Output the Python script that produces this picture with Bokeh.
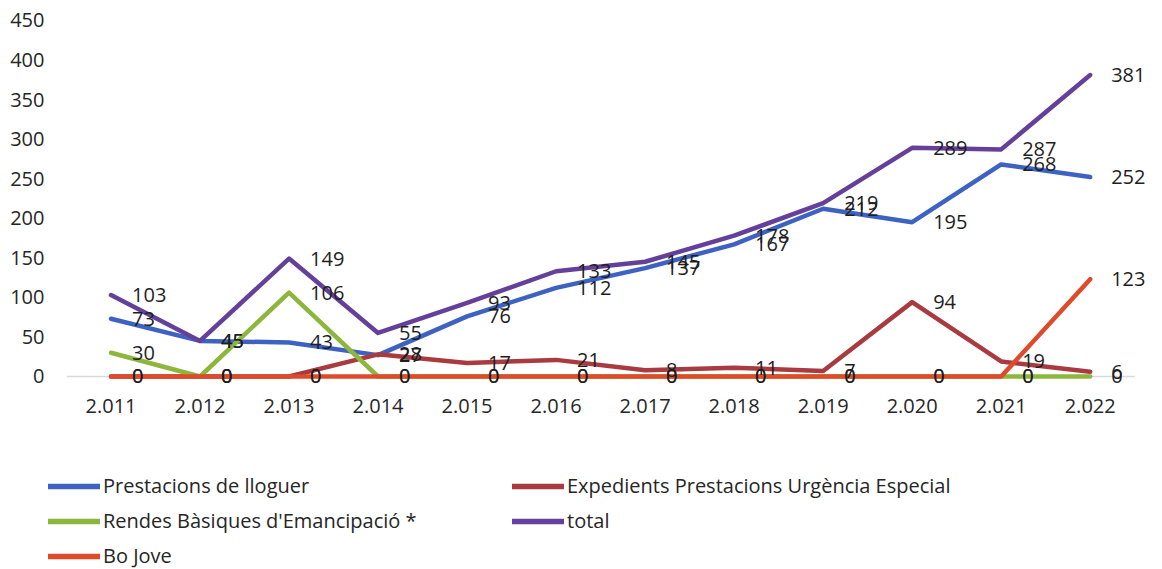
from bokeh.plotting import figure
from bokeh.models import Range1d, FixedTicker, Legend, LegendItem, ColumnDataSource
from bokeh.embed import file_html
from bokeh.resources import INLINE
from bokeh.core.properties import value

years = ["2.011", "2.012", "2.013", "2.014", "2.015", "2.016",
         "2.017", "2.018", "2.019", "2.020", "2.021", "2.022"]
prestacions = [73, 45, 43, 27, 76, 112, 137, 167, 212, 195, 268, 252]
expedients = [0, 0, 0, 28, 17, 21, 8, 11, 7, 94, 19, 6]
rendes = [30, 0, 106, 0, 0, 0, 0, 0, 0, 0, 0, 0]
total = [103, 45, 149, 55, 93, 133, 145, 178, 219, 289, 287, 381]
bo_jove = [0, 0, 0, 0, 0, 0, 0, 0, 0, 0, 0, 123]
y_ticks = [0, 50, 100, 150, 200, 250, 300, 350, 400, 450]

series = [
    ("Prestacions de lloguer", prestacions, "#3d62c2"),
    ("Expedients Prestacions Urgència Especial", expedients, "#a93a3f"),
    ("Rendes Bàsiques d'Emancipació *", rendes, "#8db63c"),
    ("total", total, "#64409a"),
    ("Bo Jove", bo_jove, "#de4a2a"),
]

FONT = "Open Sans"
xs = list(range(len(years)))

p = figure(width=1162, height=449,
           x_range=Range1d(-0.5, 11.7), y_range=Range1d(-17.7, 460),
           output_backend="svg", toolbar_location=None,
           min_border_left=66, min_border_right=10, min_border_top=12,
           min_border_bottom=59)
p.outline_line_color = None
p.background_fill_color = "white"
p.border_fill_color = "white"
p.xgrid.visible = False
p.ygrid.visible = False

# faint category axis line at zero
p.segment(x0=[-0.5], x1=[len(years) - 0.5], y0=[0], y1=[0],
          line_color="#d9d9d9", line_width=1.5)

for name, vals, color in series:
    src = ColumnDataSource(dict(x=xs, y=vals))
    p.line("x", "y", source=src, line_color=color, line_width=4.5,
           line_join="round", line_cap="round")

for name, vals, color in series:
    src = ColumnDataSource(dict(x=xs, y=vals, t=[str(v) for v in vals]))
    p.text("x", "y", text="t", source=src, x_offset=21,
           text_align="left", text_baseline="middle",
           text_font=value(FONT), text_font_size="20px", text_color="#1e1e1e")

# axes
p.xaxis.ticker = FixedTicker(ticks=xs)
p.xaxis.major_label_overrides = {i: y for i, y in enumerate(years)}
p.xaxis.axis_line_color = None
p.xaxis.major_tick_line_color = None
p.xaxis.minor_tick_line_color = None
p.xaxis.major_tick_out = 0
p.xaxis.major_label_standoff = 8
p.xaxis.major_label_text_font = FONT
p.xaxis.major_label_text_font_size = "20px"
p.xaxis.major_label_text_color = "#262626"

p.yaxis.ticker = FixedTicker(ticks=y_ticks)
p.yaxis.axis_line_color = None
p.yaxis.major_tick_line_color = None
p.yaxis.minor_tick_line_color = None
p.yaxis.major_tick_out = 0
p.yaxis.major_label_standoff = 22
p.yaxis.major_label_text_font = FONT
p.yaxis.major_label_text_font_size = "20px"
p.yaxis.major_label_text_color = "#262626"

# legend figure (single-point lines: nothing is drawn in the plot itself)
pl = figure(width=1162, height=120, x_range=Range1d(0, 1), y_range=Range1d(0, 1),
            output_backend="svg", toolbar_location=None,
            x_axis_location=None, y_axis_location=None,
            min_border=0, min_border_left=0, min_border_right=0,
            min_border_top=0, min_border_bottom=0)
pl.outline_line_color = None
pl.xgrid.visible = False
pl.ygrid.visible = False
items = []
for name, vals, color in series:
    r = pl.line(x=[0.5], y=[0.5], line_color=color, line_width=5.5,
                line_cap="round")
    items.append(LegendItem(label=name, renderers=[r]))

legend = Legend(items=items,
                location=(48, 0), orientation="horizontal", ncols=2,
                border_line_color=None, background_fill_alpha=0,
                padding=0, margin=0, spacing=8,
                label_height=20, glyph_height=20, glyph_width=52,
                label_standoff=3, label_width=401,
                label_text_font=FONT, label_text_font_size="20px",
                label_text_color="#262626")
pl.add_layout(legend, "center")

open("out.html", "w").write(file_html([p, pl], INLINE))
